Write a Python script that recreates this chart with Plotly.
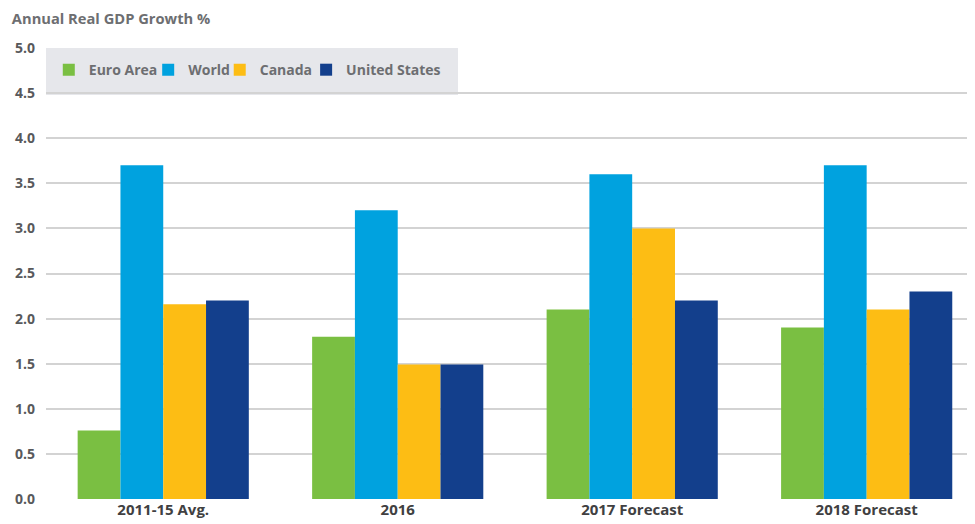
import plotly.graph_objects as go

categories = ["2011-15 Avg.", "2016", "2017 Forecast", "2018 Forecast"]
euro_area = [0.76, 1.8, 2.1, 1.9]
world = [3.7, 3.2, 3.6, 3.7]
canada = [2.16, 1.49, 3.0, 2.1]
united_states = [2.2, 1.49, 2.2, 2.3]
y_ticks = [0.0, 0.5, 1.0, 1.5, 2.0, 2.5, 3.0, 3.5, 4.0, 4.5, 5.0]

series = [
    ("Euro Area", euro_area, "#7abf42", "legend", 0.003),
    ("World", world, "#00a2df", "legend2", 0.110),
    ("Canada", canada, "#fdbd14", "legend3", 0.187),
    ("United States", united_states, "#133f8c", "legend4", 0.280),
]

FONT = "Open Sans"
LEG_FONT = dict(size=14, color="#6d6e71", family=FONT, weight="bold")

fig = go.Figure()
legends = {}
for name, vals, col, leg, lx in series:
    fig.add_trace(go.Bar(x=categories, y=vals, name=name, legend=leg, showlegend=True,
                         marker=dict(color=col, line=dict(width=0))))
    legends[leg] = dict(orientation="h", x=lx, xanchor="left", y=0.951, yanchor="middle",
                        bgcolor="rgba(0,0,0,0)", font=LEG_FONT, itemclick=False, visible=True)

fig.add_shape(type="rect", xref="paper", yref="y", x0=0, x1=0.4435, y0=4.48, y1=5.0,
              fillcolor="#e6e7eb", line=dict(width=0), layer="between")

# page body has an 8px margin, so the figure is sized/offset to compensate
fig.update_layout(
    width=967, height=516,
    margin=dict(l=38, r=0, t=40, b=25),
    paper_bgcolor="white", plot_bgcolor="white",
    showlegend=True,
    barmode="group", bargap=0.27, bargroupgap=0,
    font=dict(family=FONT, color="#58595b"),
    title=dict(text="<b>Annual Real GDP Growth %</b>", x=0.004, xanchor="left",
               yref="container", y=0.978, yanchor="middle",
               font=dict(size=14.7, color="#6d6e71", family=FONT)),
    xaxis=dict(range=[-0.5, 3.462], showgrid=False, showline=False, ticks="",
               tickfont=dict(size=15, color="#404041", family=FONT, weight="bold")),
    yaxis=dict(range=[0, 5.0], tickvals=y_ticks, tickformat=".1f", showgrid=True, gridcolor="#d3d3d3",
               gridwidth=2, zeroline=False, showline=False, ticks="", ticklabelstandoff=10,
               tickfont=dict(size=14, color="#58595b", family=FONT, weight="bold")),
    **legends,
)

fig.write_html("out.html")
